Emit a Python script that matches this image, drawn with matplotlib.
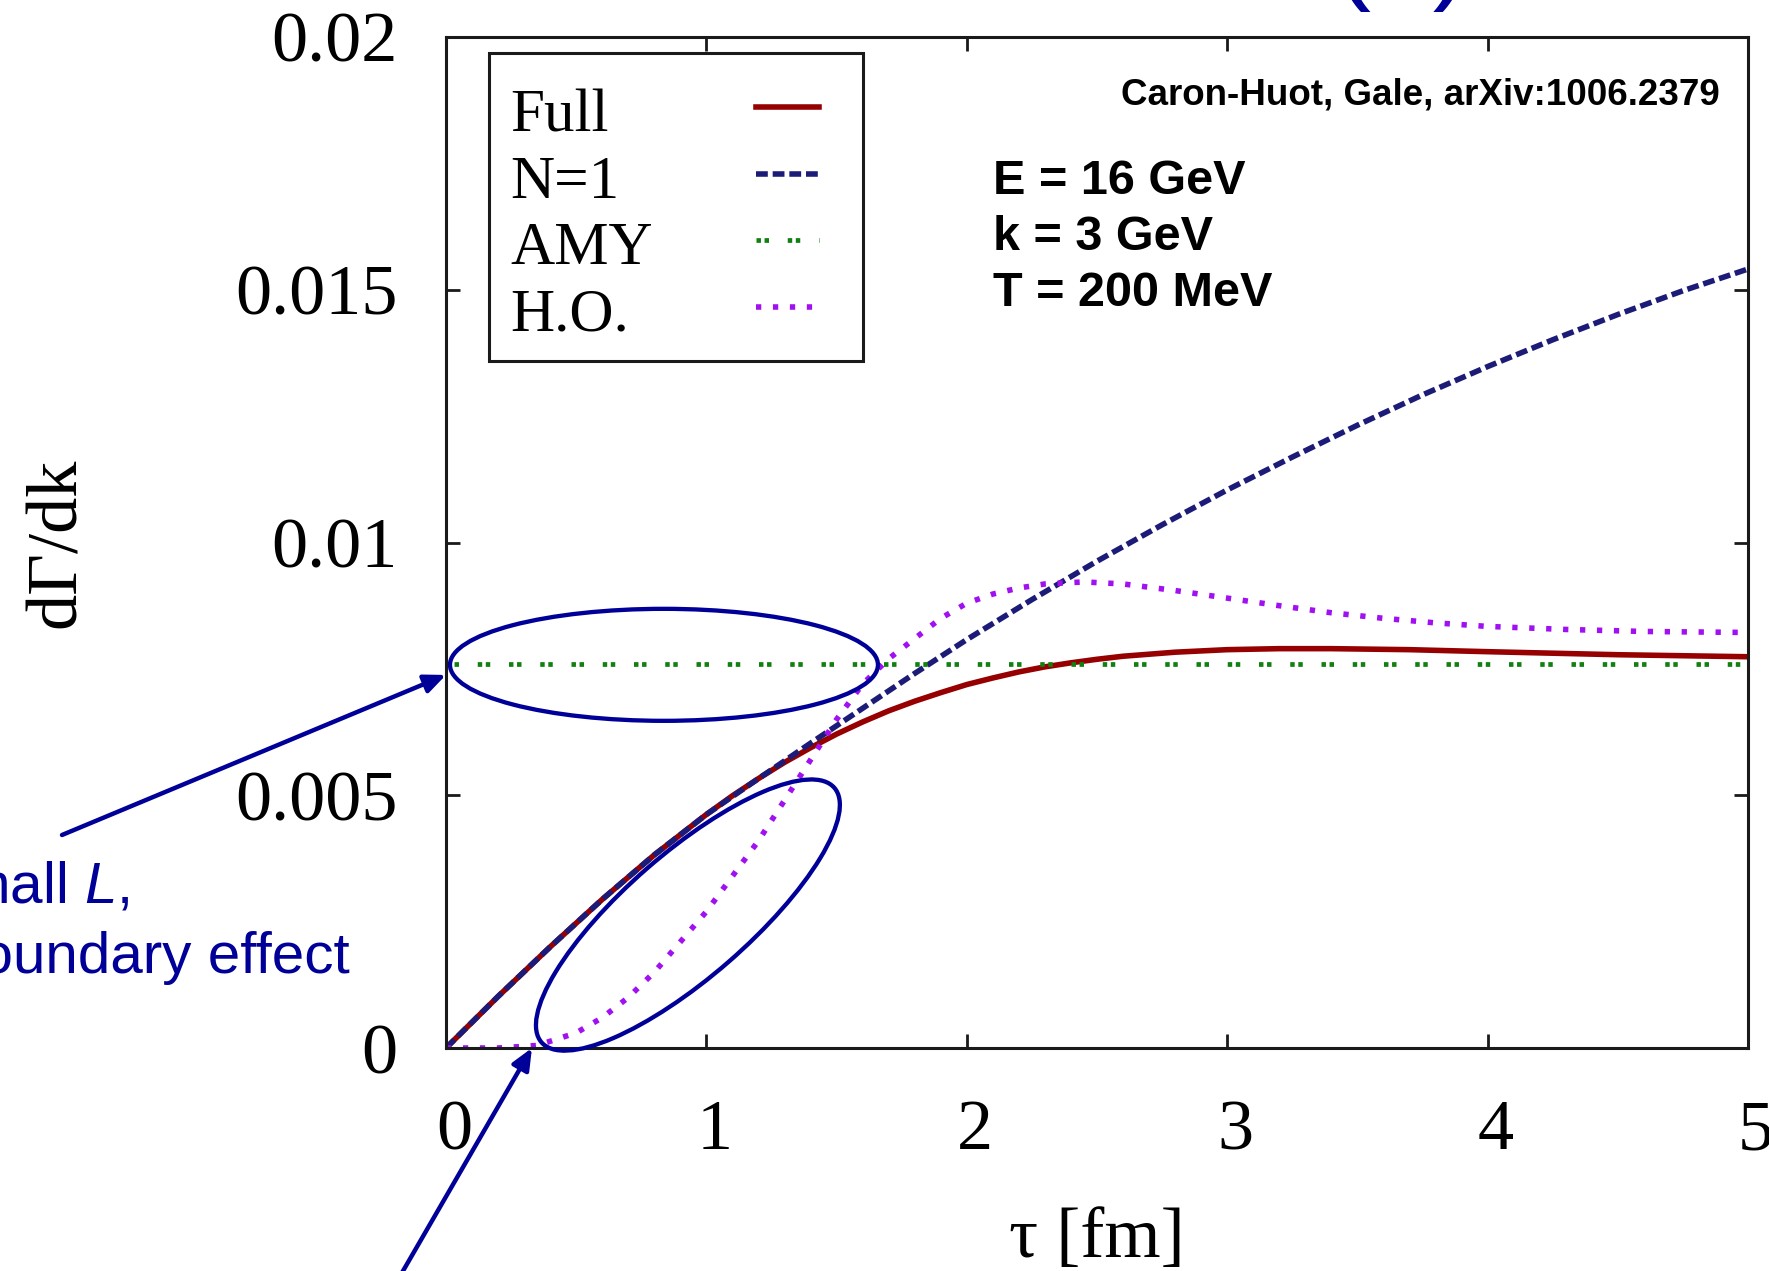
import matplotlib
matplotlib.use("Agg")
import matplotlib.pyplot as plt
from matplotlib.lines import Line2D
from matplotlib.patches import Ellipse, Rectangle
from matplotlib.transforms import ScaledTranslation

# --- curve values, tau in fm ---
tau_full = [0, 0.2, 0.4, 0.6, 0.8, 1.0, 1.1, 1.2, 1.3, 1.4, 1.5, 1.6, 1.7,
            1.8, 1.9, 2.0, 2.1, 2.2, 2.3, 2.4, 2.5, 2.6, 2.8, 3.0, 3.2, 3.4,
            3.7, 4.0, 4.5, 5.0]
rate_full = [0, 0.00102, 0.002, 0.00294, 0.00382, 0.00462, 0.00499, 0.00533,
             0.00565, 0.00594, 0.00621, 0.00645, 0.00667, 0.00686, 0.00703,
             0.00719, 0.00732, 0.00744, 0.00754, 0.00762, 0.00769, 0.00775,
             0.00783, 0.00788, 0.0079, 0.0079, 0.00788, 0.00784, 0.00778,
             0.00774]

tau_n1 = [0, 0.2, 0.4, 0.6, 0.8, 1.0, 1.2, 1.4, 1.6, 1.8, 2.0, 2.25, 2.5,
          2.75, 3.0, 3.25, 3.5, 3.75, 4.0, 4.25, 4.5, 4.75, 5.0]
rate_n1 = [0, 0.00102, 0.002, 0.00294, 0.00382, 0.00462, 0.00533, 0.00603,
           0.00672, 0.00741, 0.00808, 0.00887, 0.00963, 0.01035, 0.01104,
           0.01169, 0.01232, 0.01292, 0.01348, 0.01401, 0.01451, 0.01498,
           0.01541]

tau_amy = [0, 5.0]
rate_amy = [0.0076, 0.0076]

tau_ho = [0, 0.2, 0.35, 0.5, 0.6, 0.7, 0.8, 0.9, 1.0, 1.1, 1.2, 1.3, 1.4,
          1.5, 1.6, 1.7, 1.8, 1.9, 2.0, 2.1, 2.2, 2.3, 2.45, 2.6, 2.8, 3.0,
          3.2, 3.4, 3.6, 3.8, 4.0, 4.3, 4.6, 5.0]
rate_ho = [0, 0, 0.00005, 0.0003, 0.0006, 0.001, 0.0015, 0.0021, 0.0027,
           0.0034, 0.0041, 0.0049, 0.0057, 0.0065, 0.0072, 0.0077, 0.0081,
           0.0085, 0.0088, 0.00898, 0.0091, 0.00918, 0.00922, 0.00918,
           0.00905, 0.0089, 0.00875, 0.00861, 0.0085, 0.00841, 0.00834,
           0.00828, 0.00824, 0.00822]

x_ticks = [0, 1, 2, 3, 4, 5]
y_ticks = [0, 0.005, 0.01, 0.015, 0.02]
y_tick_labels = ["0", "0.005", "0.01", "0.015", "0.02"]

params_lines = ["E = 16 GeV", "k = 3 GeV", "T = 200 MeV"]

W, H = 1769, 1271
BLUE = "#000099"
AX_L, AX_R, AX_T, AX_B = 446, 1748, 37, 1048   # axes box in pixels

plt.rcParams["lines.scale_dashes"] = False
plt.rcParams["mathtext.fontset"] = "custom"
plt.rcParams["mathtext.rm"] = "Liberation Sans"
plt.rcParams["mathtext.it"] = "Liberation Sans:italic"
SERIF = "Liberation Serif"
SANS = "Liberation Sans"

# line styles, shared by the curves and the legend samples
series = [
    ("Full", tau_full, rate_full, dict(color="#960000", lw=4.0, ls="-")),
    ("N=1", tau_n1, rate_n1, dict(color="#1c1c78", lw=4.0, ls=(0, (8.5, 3.5)))),
    ("AMY", tau_amy, rate_amy, dict(color="#108010", lw=3.4, ls=(0, (3.2, 2.6, 3.2, 13.5)))),
    ("H.O.", tau_ho, rate_ho, dict(color="#a010f0", lw=4.0, ls=(0, (3.8, 8.4)))),
]


def fpos(x, y_top):
    """pixel position (from the top-left corner) -> figure fraction"""
    return x / W, 1 - y_top / H


def apos(x, y_top):
    """pixel position (from the top-left corner) -> axes fraction"""
    return (x - AX_L) / (AX_R - AX_L), (AX_B - y_top) / (AX_B - AX_T)


fig = plt.figure(figsize=(W / 100, H / 100), dpi=100)
ax = fig.add_axes([AX_L / W, 1 - AX_B / H, (AX_R - AX_L) / W, (AX_B - AX_T) / H])

for label, xs, ys, style in series:
    ax.plot(xs, ys, label=label, **style)

ax.set_xlim(0, 5)
ax.set_ylim(0, 0.02)
ax.set_xticks(x_ticks)
ax.set_yticks(y_ticks)
ax.set_yticklabels(y_tick_labels)
ax.tick_params(direction="in", top=True, right=True, length=10, width=2,
               color="#1a1a1a")
ax.tick_params(axis="x", pad=37)
ax.tick_params(axis="y", pad=35)
for lab in ax.get_xticklabels() + ax.get_yticklabels():
    lab.set_fontfamily(SERIF)
    lab.set_fontsize(52)
for lab in ax.get_xticklabels():
    lab.set_transform(lab.get_transform() + ScaledTranslation(0.08, 0, fig.dpi_scale_trans))
for sp in ax.spines.values():
    sp.set_linewidth(2.2)
    sp.set_color("#1a1a1a")

ax.set_xlabel("τ [fm]", fontfamily=SERIF, fontsize=52)
ax.xaxis.set_label_coords(0.5, apos(0, 1207)[1])
ax.set_ylabel("dΓ/dk", fontfamily=SERIF, fontsize=52)
ax.yaxis.set_label_coords(apos(90, 0)[0], 0.5)

# legend box: labels on the left, line samples on the right
x0, y0 = apos(489, 361)
x1, y1 = apos(863, 53)
ax.add_patch(Rectangle((x0, y0), x1 - x0, y1 - y0, transform=ax.transAxes,
                       facecolor="white", edgecolor="#1a1a1a", lw=2.2,
                       zorder=5, clip_on=False))
for i, (label, _, _, style) in enumerate(series):
    base = 131 + 66.5 * i
    ax.text(*apos(510, base), label, transform=ax.transAxes,
            ha="left", va="baseline", fontfamily=SERIF, fontsize=44, zorder=6)
    sx0, sy = apos(756, base - 24)
    sx1, _ = apos(819, base - 24)
    ax.add_line(Line2D([sx0, sx1], [sy, sy], transform=ax.transAxes,
                       zorder=6, clip_on=False, **style))

# reference and run parameters
fig.text(*fpos(1720, 105), "Caron-Huot, Gale, arXiv:1006.2379", ha="right",
         va="baseline", fontfamily=SANS, fontweight="bold", fontsize=26.5)
for i, line in enumerate(params_lines):
    fig.text(*fpos(993, 194 + 56 * i), line, ha="left", va="baseline",
             fontfamily=SANS, fontweight="bold", fontsize=35)

# highlighted regions
ell_amy = Ellipse((0, 0), 4.28, 1.12, angle=0, fill=False, ec=BLUE, lw=3.1,
                  clip_on=False, zorder=4,
                  transform=fig.dpi_scale_trans + ScaledTranslation(0.837, 0.00758, ax.transData))
ax.add_patch(ell_amy)
ell_ho = Ellipse((0, 0), 3.88, 1.24, angle=41, fill=False, ec=BLUE, lw=3.1,
                 clip_on=False, zorder=4,
                 transform=fig.dpi_scale_trans + ScaledTranslation(0.929, 0.00263, ax.transData))
ax.add_patch(ell_ho)

arrow = dict(arrowstyle="-|>,head_length=0.8,head_width=0.35", color=BLUE,
             lw=3.2, shrinkA=0, shrinkB=0, mutation_scale=16)
ax.annotate("", xy=(0, 0.00738), xycoords="data", xytext=(62, H - 835),
            textcoords="figure pixels", arrowprops=arrow, annotation_clip=False)
ax.annotate("", xy=(0.33, 0.0), xycoords="data", xytext=(392, -19),
            textcoords="figure pixels", arrowprops=arrow, annotation_clip=False)

fig.text(*fpos(-68, 903), "small $L$,", ha="left", va="baseline",
         fontfamily=SANS, fontsize=42, color=BLUE)
fig.text(*fpos(-52, 973), "boundary effect", ha="left", va="baseline",
         fontfamily=SANS, fontsize=42, color=BLUE)

# slide heading running off the top edge
fig.text(*fpos(1402, -11), "(  )", ha="center", va="baseline",
         fontfamily=SANS, fontsize=80, color=BLUE)

fig.savefig("out.png", dpi=100)
